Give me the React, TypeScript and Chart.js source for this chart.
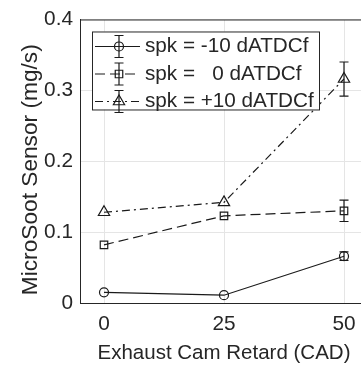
import React, { useEffect, useRef } from "react";
import { Chart, registerables } from "chart.js";

Chart.register(...registerables);

const cad = [0, 25, 50];
const spkMinus10 = [0.015, 0.011, 0.066];
const errMinus10 = [0, 0, 0.006];
const spkZero = [0.082, 0.123, 0.13];
const errZero = [0, 0, 0.015];
const spkPlus10 = [0.128, 0.142, 0.316];
const errPlus10 = [0, 0, 0.024];
const seriesLabels = ["spk = -10 dATDCf", "spk =   0 dATDCf", "spk = +10 dATDCf"];
const xTicks = [0, 25, 50];
const xTitle = "Exhaust Cam Retard (CAD)";
const yTitle = "MicroSoot Sensor (mg/s)";

const FONT = "'Liberation Sans', Arial, Helvetica, sans-serif";
const INK = "#262626";
const LINE = "#1a1a1a";

const errorBarPlugin = {
  id: "errorBars",
  afterDatasetsDraw(chart: any) {
    const ctx = chart.ctx;
    const xs = chart.scales.x;
    const ys = chart.scales.y;
    chart.data.datasets.forEach((ds: any) => {
      const errs: number[] = ds.errors || [];
      ds.data.forEach((p: any, i: number) => {
        const e = errs[i];
        if (!e) return;
        const px = xs.getPixelForValue(p.x);
        const y1 = ys.getPixelForValue(p.y - e);
        const y2 = ys.getPixelForValue(p.y + e);
        ctx.save();
        ctx.strokeStyle = LINE;
        ctx.lineWidth = 1.2;
        ctx.setLineDash([]);
        ctx.beginPath();
        ctx.moveTo(px, y1);
        ctx.lineTo(px, y2);
        ctx.moveTo(px - 4.5, y1);
        ctx.lineTo(px + 4.5, y1);
        ctx.moveTo(px - 4.5, y2);
        ctx.lineTo(px + 4.5, y2);
        ctx.stroke();
        ctx.restore();
      });
    });
  },
};

const framePlugin = {
  id: "frame",
  afterDraw(chart: any) {
    const { ctx, chartArea } = chart;
    ctx.save();
    ctx.strokeStyle = INK;
    ctx.lineWidth = 1;
    ctx.setLineDash([]);
    ctx.beginPath();
    ctx.moveTo(chartArea.left, chartArea.top + 0.5);
    ctx.lineTo(chartArea.right, chartArea.top + 0.5);
    ctx.stroke();
    // y axis title
    ctx.translate(37, (chartArea.top + chartArea.bottom) / 2 + 8.5);
    ctx.rotate(-Math.PI / 2);
    ctx.fillStyle = INK;
    ctx.font = `22.7px ${FONT}`;
    ctx.textAlign = "center";
    ctx.textBaseline = "alphabetic";
    ctx.fillText(yTitle, 0, 0);
    ctx.restore();
  },
};

const legendPlugin = {
  id: "customLegend",
  afterDraw(chart: any) {
    const { ctx, chartArea } = chart;
    const bx = chartArea.left + 12;
    const by = chartArea.top + 12;
    const bw = 227;
    const bh = 78;
    ctx.save();
    ctx.fillStyle = "#ffffff";
    ctx.fillRect(bx, by, bw, bh);
    ctx.strokeStyle = INK;
    ctx.lineWidth = 1;
    ctx.strokeRect(bx + 0.5, by + 0.5, bw, bh);
    chart.data.datasets.forEach((ds: any, i: number) => {
      const cy = by + 15 + i * 27.5;
      const x0 = bx + 3;
      const x1 = bx + 48;
      const mx = bx + 27;
      ctx.strokeStyle = LINE;
      ctx.lineWidth = 1.2;
      ctx.setLineDash(ds.borderDash || []);
      ctx.beginPath();
      ctx.moveTo(x0, cy);
      ctx.lineTo(x1, cy);
      ctx.stroke();
      ctx.setLineDash([]);
      ctx.beginPath();
      ctx.moveTo(mx, cy - 11);
      ctx.lineTo(mx, cy + 11);
      ctx.moveTo(mx - 4.5, cy - 11);
      ctx.lineTo(mx + 4.5, cy - 11);
      ctx.moveTo(mx - 4.5, cy + 11);
      ctx.lineTo(mx + 4.5, cy + 11);
      ctx.stroke();
      const r = ds.pointRadius;
      ctx.beginPath();
      if (ds.pointStyle === "circle") {
        ctx.arc(mx, cy, r, 0, Math.PI * 2);
      } else if (ds.pointStyle === "rect") {
        const s = Math.SQRT1_2 * r;
        ctx.rect(mx - s, cy - s, 2 * s, 2 * s);
      } else {
        ctx.moveTo(mx, cy - r);
        ctx.lineTo(mx + r * Math.sin((Math.PI * 2) / 3), cy - r * Math.cos((Math.PI * 2) / 3));
        ctx.lineTo(mx + r * Math.sin((Math.PI * 4) / 3), cy - r * Math.cos((Math.PI * 4) / 3));
        ctx.closePath();
      }
      ctx.stroke();
      ctx.fillStyle = INK;
      ctx.font = `20.7px ${FONT}`;
      ctx.textBaseline = "middle";
      ctx.textAlign = "left";
      ctx.fillText(ds.label, bx + 53, cy);
    });
    ctx.restore();
  },
};

function toPoints(vals: number[]) {
  return cad.map((x, i) => ({ x, y: vals[i] }));
}

export default function App() {
  const ref = useRef<HTMLCanvasElement | null>(null);
  useEffect(() => {
    document.body.style.margin = "0";
    const canvas = ref.current!;
    const common = {
      borderColor: LINE,
      pointBorderColor: LINE,
      pointBackgroundColor: "rgba(255,255,255,0)",
      borderWidth: 1.2,
      pointBorderWidth: 1.2,
      fill: false,
      tension: 0,
    };
    const chart = new Chart(canvas, {
      type: "line",
      data: {
        datasets: [
          { ...common, label: seriesLabels[0], data: toPoints(spkMinus10), errors: errMinus10, pointStyle: "circle", pointRadius: 4.5, borderDash: [] } as any,
          { ...common, label: seriesLabels[1], data: toPoints(spkZero), errors: errZero, pointStyle: "rect", pointRadius: 5.3, borderDash: [10, 5] } as any,
          { ...common, label: seriesLabels[2], data: toPoints(spkPlus10), errors: errPlus10, pointStyle: "triangle", pointRadius: 6.5, borderDash: [8, 4, 2, 4] } as any,
        ],
      },
      options: {
        animation: false,
        responsive: false,
        devicePixelRatio: 1,
        layout: { padding: { top: 17, right: 12, left: 0, bottom: 0 } },
        plugins: { legend: { display: false }, tooltip: { enabled: false } },
        scales: {
          x: {
            type: "linear",
            min: -5,
            max: 55,
            afterBuildTicks: (s: any) => {
              s.ticks = xTicks.map((v) => ({ value: v }));
            },
            afterFit: (s: any) => {
              s.height = 63;
            },
            grid: { color: "#e5e5e5", drawTicks: false, lineWidth: 1 },
            border: { color: INK, width: 1 },
            ticks: { color: INK, font: { family: FONT, size: 20.8 }, padding: 9, maxRotation: 0 },
            title: { display: true, text: xTitle, color: INK, font: { family: FONT, size: 20.5 }, padding: { top: 0, bottom: 0.7 } },
          },
          y: {
            type: "linear",
            min: 0,
            max: 0.4,
            afterFit: (s: any) => {
              s.width = 80;
            },
            grid: { color: "#e5e5e5", drawTicks: false, lineWidth: 1 },
            border: { color: INK, width: 1 },
            ticks: {
              stepSize: 0.1,
              color: INK,
              font: { family: FONT, size: 20.8 },
              padding: 7,
              callback: (v: any) => String(Math.round(Number(v) * 10) / 10),
            },
            title: { display: false },
          },
        },
      },
      plugins: [errorBarPlugin, framePlugin, legendPlugin],
    });
    return () => chart.destroy();
  }, []);
  return (
    <div style={{ width: 361, height: 366, overflow: "hidden", position: "relative" }}>
      <canvas ref={ref} width={380} height={366} style={{ width: 380, height: 366, display: "block" }} />
    </div>
  );
}
